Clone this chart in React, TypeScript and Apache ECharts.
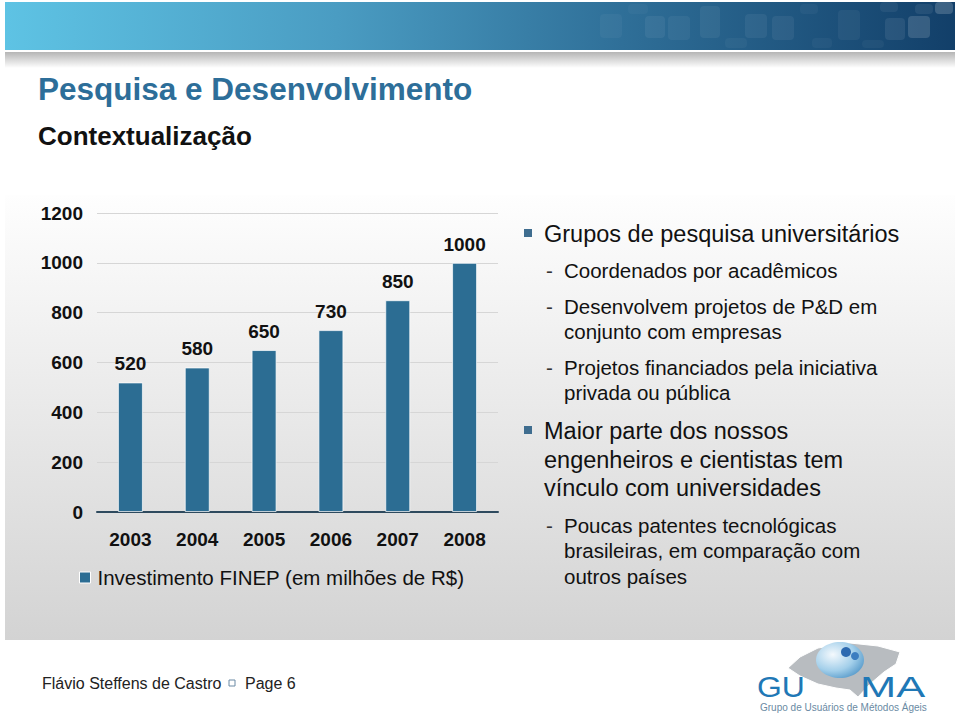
import React, { useEffect, useRef } from "react";
import * as echarts from "echarts";

const years = ["2003", "2004", "2005", "2006", "2007", "2008"];
const investimento = [520, 580, 650, 730, 850, 1000];
const seriesName = "Investimento FINEP (em milhões de R$)";
const yTicks = { min: 0, max: 1200, interval: 200 };

const title = "Pesquisa e Desenvolvimento";
const subtitle = "Contextualização";
const bulletLines = [
  { kind: "bullet", lines: ["Grupos de pesquisa universitários"], y: 234 },
  { kind: "dash", lines: ["Coordenados por acadêmicos"], y: 270 },
  { kind: "dash", lines: ["Desenvolvem projetos de P&D em", "conjunto com empresas"], y: 306 },
  { kind: "dash", lines: ["Projetos financiados pela iniciativa", "privada ou pública"], y: 367 },
  { kind: "bullet", lines: ["Maior parte dos nossos", "engenheiros e cientistas tem", "vínculo com universidades"], y: 431 },
  { kind: "dash", lines: ["Poucas patentes tecnológicas", "brasileiras, em comparação com", "outros países"], y: 525 },
];
const footerAuthor = "Flávio Steffens de Castro";
const footerPage = "Page 6";
const logoSub = "Grupo de Usuários de Métodos Ágeis";

const FONT = "Liberation Sans, Arial, Helvetica, sans-serif";
const BAR = "#2c6d93";

export default function App() {
  const ref = useRef<HTMLDivElement>(null);
  useEffect(() => {
    if (!ref.current) return;
    const chart = echarts.init(ref.current, null, { renderer: "svg" });

    const graphics: any[] = [];
    // header band
    graphics.push({
      type: "rect", z: -10, silent: true,
      shape: { x: 5, y: 2, width: 950, height: 48 },
      style: {
        fill: new echarts.graphic.LinearGradient(0, 0, 1, 0, [
          { offset: 0, color: "#5ec3e4" },
          { offset: 0.35, color: "#4a9cc2" },
          { offset: 0.65, color: "#2f6f98" },
          { offset: 1, color: "#123f69" },
        ]),
      },
    });
    const pills = [
      [600, 14, 22, 24, 0.04], [628, 4, 20, 10, 0.03], [645, 16, 20, 22, 0.06],
      [668, 16, 22, 24, 0.05], [700, 6, 20, 32, 0.06], [725, 38, 22, 10, 0.04],
      [745, 14, 22, 24, 0.06], [772, 16, 22, 24, 0.06], [800, 4, 18, 10, 0.04],
      [812, 38, 20, 10, 0.04], [838, 10, 22, 30, 0.05], [862, 40, 22, 8, 0.04],
      [885, 18, 20, 22, 0.08], [908, 16, 22, 22, 0.15], [915, 4, 18, 10, 0.07],
      [935, 2, 18, 12, 0.18], [880, 2, 18, 10, 0.06],
    ];
    pills.forEach(([x, y, w, h, a]) =>
      graphics.push({
        type: "rect", z: -9, silent: true,
        shape: { x, y, width: w, height: h, r: 4 },
        style: { fill: `rgba(255,255,255,${a})` },
      })
    );
    // shadow under header
    graphics.push({
      type: "rect", z: -10, silent: true,
      shape: { x: 5, y: 52, width: 950, height: 16 },
      style: {
        fill: new echarts.graphic.LinearGradient(0, 0, 0, 1, [
          { offset: 0, color: "#b5b5b5" },
          { offset: 1, color: "#ffffff" },
        ]),
      },
    });
    // content background
    graphics.push({
      type: "rect", z: -10, silent: true,
      shape: { x: 5, y: 195, width: 950, height: 445 },
      style: {
        fill: new echarts.graphic.LinearGradient(0, 0, 0, 1, [
          { offset: 0, color: "#fefefe" },
          { offset: 1, color: "#d3d3d3" },
        ]),
      },
    });
    // title & subtitle
    graphics.push({
      type: "text", x: 38, y: 89,
      style: { text: title, fill: "#2d6e99", fontSize: 31.5, fontWeight: "bold", fontFamily: FONT, verticalAlign: "middle" },
    });
    graphics.push({
      type: "text", x: 38, y: 136,
      style: { text: subtitle, fill: "#111111", fontSize: 26, fontWeight: "bold", fontFamily: FONT, verticalAlign: "middle" },
    });
    // bullet text
    bulletLines.forEach((b) => {
      const isBullet = b.kind === "bullet";
      const fs = isBullet ? 23.5 : 20.5;
      const lh = isBullet ? 28.5 : 25.5;
      const tx = isBullet ? 544 : 564;
      if (isBullet) {
        graphics.push({
          type: "rect", shape: { x: 524, y: b.y - 5, width: 8, height: 8 },
          style: { fill: "#3f6d8f" },
        });
      } else {
        graphics.push({
          type: "text", x: 546, y: b.y,
          style: { text: "-", fill: "#333", fontSize: fs, fontFamily: FONT, verticalAlign: "middle" },
        });
      }
      b.lines.forEach((line, i) =>
        graphics.push({
          type: "text", x: tx, y: b.y + i * lh,
          style: { text: line, fill: "#111111", fontSize: fs, fontFamily: FONT, verticalAlign: "middle" },
        })
      );
    });
    // footer
    graphics.push({
      type: "text", x: 42, y: 683,
      style: { text: footerAuthor, fill: "#222", fontSize: 16, fontFamily: FONT, verticalAlign: "middle" },
    });
    graphics.push({
      type: "rect", shape: { x: 229, y: 680, width: 6, height: 6 },
      style: { fill: "none", stroke: "#6a8aa5", lineWidth: 1 },
    });
    graphics.push({
      type: "text", x: 245, y: 683,
      style: { text: footerPage, fill: "#222", fontSize: 16, fontFamily: FONT, verticalAlign: "middle" },
    });
    // logo
    graphics.push({
      type: "polygon",
      shape: { points: [[788, 668], [800, 657], [818, 648], [850, 643], [878, 646], [900, 652], [896, 664], [884, 672], [870, 684], [858, 697], [850, 690], [836, 688], [818, 684], [800, 676]] },
      style: { fill: "#b8bcc0", stroke: "#ffffff", lineWidth: 1 },
    });
    graphics.push({
      type: "ellipse", shape: { cx: 840, cy: 660, rx: 24, ry: 18 },
      style: {
        fill: new echarts.graphic.RadialGradient(0.35, 0.35, 0.9, [
          { offset: 0, color: "#f4f9fd" },
          { offset: 0.5, color: "#a3cfea" },
          { offset: 1, color: "#2c7cb8" },
        ]),
      },
    });
    graphics.push({
      type: "circle", shape: { cx: 846, cy: 652, r: 5 },
      style: { fill: "#2d6ab0" },
    });
    graphics.push({
      type: "circle", shape: { cx: 855, cy: 656, r: 4 },
      style: { fill: "#3b7dc0" },
    });
    graphics.push({
      type: "text", x: 757, y: 687, scaleX: 1.1,
      style: { text: "GU", fill: "#1f78b6", fontSize: 29, fontFamily: FONT, verticalAlign: "middle" },
    });
    graphics.push({
      type: "text", x: 860, y: 687, scaleX: 1.5,
      style: { text: "MA", fill: "#1f78b6", fontSize: 29, fontFamily: FONT, verticalAlign: "middle" },
    });
    graphics.push({
      type: "text", x: 760, y: 707,
      style: { text: logoSub, fill: "#6a8aa3", fontSize: 10, fontFamily: FONT, verticalAlign: "middle" },
    });

    chart.setOption({
      animation: false,
      backgroundColor: "#ffffff",
      textStyle: { fontFamily: FONT },
      graphic: graphics,
      legend: {
        data: [seriesName],
        left: 74,
        top: 562,
        icon: "rect",
        itemWidth: 11,
        itemHeight: 11,
        itemStyle: { borderColor: "#ffffff", borderWidth: 1 },
        textStyle: { fontSize: 20.5, color: "#111111", fontFamily: FONT, padding: [0, 0, 0, 2] },
      },
      grid: { left: 97, top: 213, width: 401, height: 299, containLabel: false },
      xAxis: {
        type: "category",
        data: years,
        axisLine: { lineStyle: { color: "#2e4a5e", width: 2 } },
        axisTick: { show: false },
        axisLabel: { fontSize: 19, fontWeight: "bold", color: "#111111", margin: 18, fontFamily: FONT },
      },
      yAxis: {
        type: "value",
        min: yTicks.min,
        max: yTicks.max,
        interval: yTicks.interval,
        axisLine: { show: false },
        axisTick: { show: false },
        splitLine: { lineStyle: { color: "#d6d6d6", width: 1 } },
        axisLabel: {
          fontSize: 19, fontWeight: "bold", color: "#111111", margin: 14, fontFamily: FONT,
          formatter: (v: number) => String(v),
        },
      },
      series: [
        {
          name: seriesName,
          type: "bar",
          data: investimento,
          barWidth: 25,
          itemStyle: { color: BAR, borderColor: "rgba(255,255,255,0.7)", borderWidth: 1 },
          label: {
            show: true,
            position: "top",
            distance: 9,
            fontSize: 19,
            fontWeight: "bold",
            color: "#111111",
            fontFamily: FONT,
          },
        },
      ],
    });
    return () => chart.dispose();
  }, []);
  return (
    <div
      ref={ref}
      style={{ position: "fixed", left: 0, top: 0, width: 959, height: 715 }}
    />
  );
}
